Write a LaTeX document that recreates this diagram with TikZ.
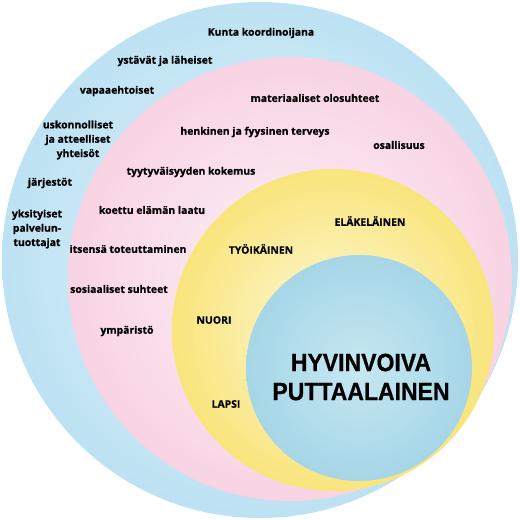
\documentclass[tikz,border=0pt]{standalone}
\usepackage{fontspec}
\setmainfont{Open Sans}[BoldFeatures={FakeBold=0.7}]
\newfontfamily\bigfont{Liberation Sans}[BoldFeatures={FakeBold=0.8}]
\definecolor{blueEdge}{HTML}{BDE2F3}
\definecolor{blueIn}{HTML}{E3F3FA}
\definecolor{pinkEdge}{HTML}{F8D3E4}
\definecolor{pinkIn}{HTML}{FDF2F7}
\definecolor{yelEdge}{HTML}{F9E57C}
\definecolor{yelIn}{HTML}{FDF8D8}
\definecolor{coreEdge}{HTML}{A6D6E7}
\definecolor{coreIn}{HTML}{C6E8F1}
\begin{document}
\begin{tikzpicture}[x=1pt,y=-1pt,
  lbl/.style={font=\bfseries\fontsize{10.4}{14.3}\selectfont, inner sep=0pt, align=center, text=black},
  big/.style={font=\bigfont\bfseries\fontsize{25}{29}\selectfont, inner sep=0pt, align=center, text=black, xscale=0.92}]
\useasboundingbox (0,0) rectangle (520,520);
\fill[white] (0,0) rectangle (520,520);
\shade[inner color=blueIn, outer color=blueEdge] (260,260) circle[radius=258pt];
\shade[inner color=pinkIn, outer color=pinkEdge] (290,279) circle[radius=222pt];
\shade[inner color=yelIn, outer color=yelEdge] (333,330) circle[radius=161pt];
\shade[inner color=coreIn, outer color=coreEdge] (359,368) circle[radius=113pt];

\node[lbl] (kunta) at (261,33) {Kunta koordinoijana};
\node[lbl] (ystavat) at (165,61) {ystävät ja läheiset};
\node[lbl] (vapaa) at (117,91) {vapaaehtoiset};
\node[lbl] (materia) at (315,98) {materiaaliset olosuhteet};
\node[lbl] (terveys) at (255,132) {henkinen ja fyysinen terveys};
\node[lbl] (osall) at (399,145) {osallisuus};
\node[lbl] (usk) at (78,140) {uskonnolliset\\ja atteelliset\\yhteisöt};
\node[lbl] (tyyty) at (191,172) {tyytyväisyyden kokemus};
\node[lbl] (jarj) at (50,183) {järjestöt};
\node[lbl] (yksi) at (37,229) {yksityiset\\palvelun-\\tuottajat};
\node[lbl] (koettu) at (152,210) {koettu elämän laatu};
\node[lbl] (itsensa) at (128,249) {itsensä toteuttaminen};
\node[lbl] (tyoik) at (261,249) {TYÖIKÄINEN};
\node[lbl] (elake) at (370,221) {ELÄKELÄINEN};
\node[lbl] (sosiaal) at (119,289) {sosiaaliset suhteet};
\node[lbl] (ymp) at (127,331) {ympäristö};
\node[lbl] (nuori) at (214,320) {NUORI};
\node[lbl] (lapsi) at (226,404) {LAPSI};
\node[big] (core) at (361,377) {HYVINVOIVA\\PUTTAALAINEN};
\end{tikzpicture}
\end{document}
